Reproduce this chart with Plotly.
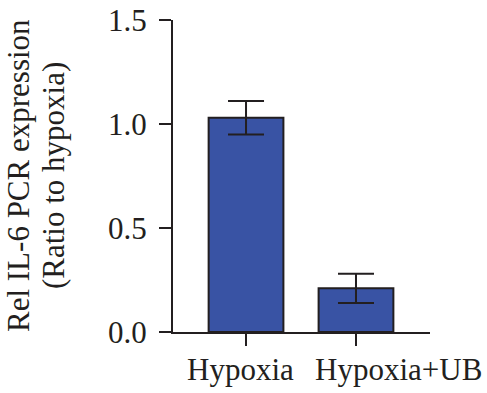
import plotly.graph_objects as go

categories = ["Hypoxia", "Hypoxia+UB"]
values = [1.03, 0.21]
errors = [0.08, 0.07]
y_ticks = [0.0, 0.5, 1.0, 1.5]
y_ticklabels = ["0.0", "0.5", "1.0", "1.5"]
y_title_lines = ["Rel IL-6 PCR expression", "(Ratio to hypoxia)"]
label_shift = [-6, 43]
title_shift = [-155, -120]

ink = "#231f20"
bar_color = "#3953a4"
font_family = "Liberation Serif"

fig = go.Figure()
fig.add_trace(go.Bar(
    x=categories, y=values, width=0.68,
    marker=dict(color=bar_color, line=dict(color=ink, width=2)),
    error_y=dict(type="data", array=errors, visible=True, color=ink, thickness=2, width=18),
))

for c, s in zip(categories, label_shift):
    fig.add_annotation(x=c, y=0, xref="x", yref="y", text=c, showarrow=False,
                       yanchor="top", yshift=-18, xshift=s,
                       font=dict(family=font_family, size=31, color=ink))

for t, s in zip(y_title_lines, title_shift):
    fig.add_annotation(x=0, y=0.5, xref="paper", yref="paper", text=t, showarrow=False,
                       textangle=-90, xanchor="center", yanchor="middle", xshift=s,
                       font=dict(family=font_family, size=31, color=ink))

fig.update_layout(
    width=487, height=393,
    margin=dict(l=173, r=57, t=20, b=61),
    paper_bgcolor="white", plot_bgcolor="white",
    showlegend=False,
    font=dict(family=font_family, size=30, color=ink),
)
fig.update_xaxes(
    range=[-0.664, 1.673], showline=True, linecolor=ink, linewidth=2,
    ticks="outside", ticklen=12, tickwidth=2, tickcolor=ink,
    showticklabels=False, showgrid=False, zeroline=False, automargin=False,
)
fig.update_yaxes(
    range=[0, 1.5], tickvals=y_ticks, ticktext=y_ticklabels,
    showline=True, linecolor=ink, linewidth=2,
    ticks="outside", ticklen=12, tickwidth=2, tickcolor=ink,
    showgrid=False, zeroline=False, ticklabelstandoff=6, automargin=False,
    tickfont=dict(family=font_family, size=31, color=ink),
)
fig.write_html("out.html", config={"displayModeBar": False},
               post_script="document.body.style.margin='0';")
